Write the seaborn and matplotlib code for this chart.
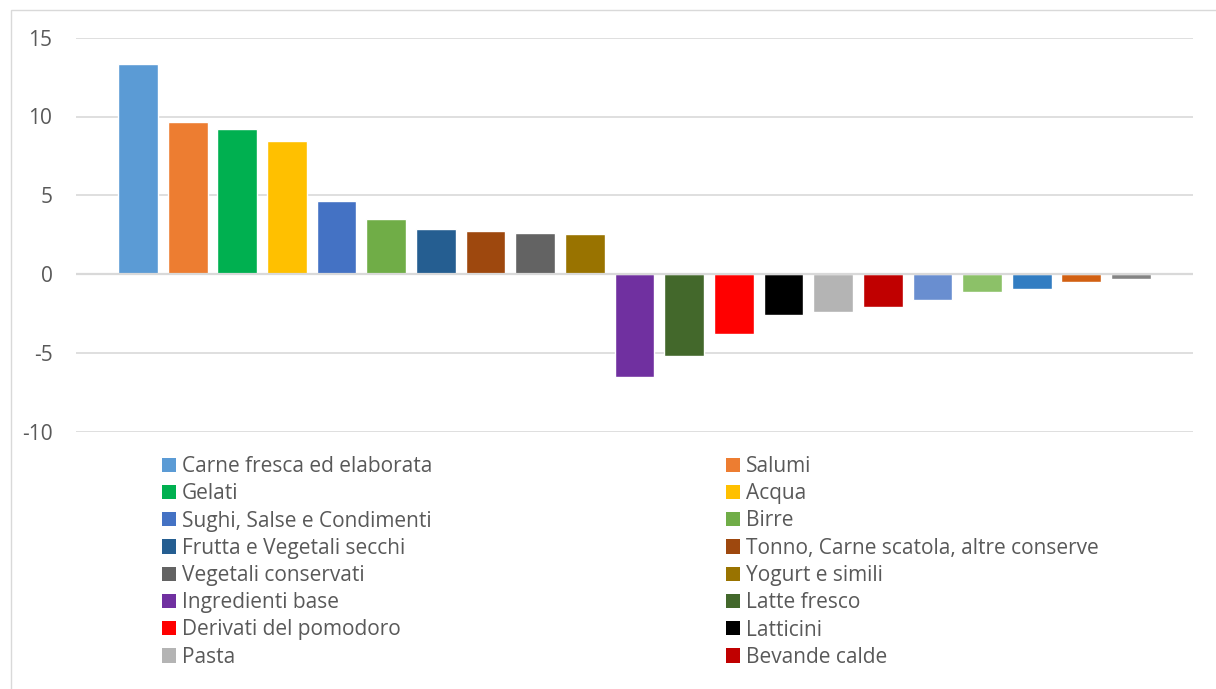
import matplotlib
matplotlib.use("Agg")
import matplotlib.pyplot as plt
import matplotlib.patches as mpatches
import seaborn as sns
import pandas as pd

categories = [
    "Carne fresca ed elaborata", "Salumi", "Gelati", "Acqua",
    "Sughi, Salse e Condimenti", "Birre", "Frutta e Vegetali secchi",
    "Tonno, Carne scatola, altre conserve", "Vegetali conservati",
    "Yogurt e simili", "Ingredienti base", "Latte fresco",
    "Derivati del pomodoro", "Latticini", "Pasta", "Bevande calde",
    "Categoria 17", "Categoria 18", "Categoria 19", "Categoria 20", "Categoria 21",
]
values = [13.33, 9.65, 9.21, 8.45, 4.64, 3.50, 2.86, 2.73, 2.61, 2.54,
          -6.51, -5.18, -3.78, -2.58, -2.39, -2.07, -1.62, -1.12, -0.95, -0.50, -0.31]
colors = ["#5B9BD5", "#ED7D31", "#00B050", "#FFC000", "#4472C4", "#70AD47",
          "#255E91", "#9E480E", "#636363", "#997300", "#7030A0", "#43682B",
          "#FF0000", "#000000", "#B4B4B4", "#C00000", "#698ED0", "#8CC168",
          "#327DC2", "#D26012", "#848484"]
legend_count = 16
y_ticks = [-10, -5, 0, 5, 10, 15]

sns.set_theme(style="white")
plt.rcParams['font.family'] = ['Open Sans', 'DejaVu Sans']

W, H = 1216, 689
fig = plt.figure(figsize=(W / 100, H / 100), dpi=100)
ax = fig.add_axes([76 / W, 1 - 431.7 / H, (1193 - 76) / W, (431.7 - 37.7) / H])

df = pd.DataFrame({"cat": categories, "val": values})
sns.barplot(data=df, x="cat", y="val", hue="cat", palette=colors,
            order=categories, hue_order=categories, dodge=False,
            width=0.8, saturation=1, legend=False, ax=ax, zorder=2)

ax.set_xlim(-1.25, 21.25)
ax.set_ylim(-10, 15)
ax.set_yticks(y_ticks)
ax.set_yticklabels([str(t) for t in y_ticks])
ax.set_xticks([])
ax.set_xlabel("")
ax.set_ylabel("")
for s in ax.spines.values():
    s.set_visible(False)
ax.yaxis.grid(True, color="#D9D9D9", lw=1.2, zorder=0)
ax.set_axisbelow(True)
ax.axhline(0, color="#D9D9D9", lw=1.6, zorder=3)
ax.tick_params(axis="y", length=0, pad=17, labelcolor="#595959", labelsize=15)

# chart border
fig.patches.append(mpatches.Rectangle((10.5 / W, -0.05), 1.2, (H - 9.5) / H + 0.05,
                                      fill=False, edgecolor="#D9D9D9", lw=1,
                                      transform=fig.transFigure, figure=fig))

left_idx = list(range(0, legend_count, 2))
right_idx = list(range(1, legend_count, 2))
common = dict(loc="upper left", frameon=False, borderpad=0, borderaxespad=0,
              handlelength=0.67, handleheight=0.67, handletextpad=0.3,
              labelspacing=0.3, fontsize=15, labelcolor="#595959")
for idx, x0 in ((left_idx, 162), (right_idx, 726)):
    handles = [mpatches.Patch(facecolor=colors[i], edgecolor="none") for i in idx]
    labels = [categories[i] for i in idx]
    fig.legend(handles=handles, labels=labels,
               bbox_to_anchor=(x0 / W, 1 - 456 / H), **common)

fig.savefig("out.png", dpi=100)
